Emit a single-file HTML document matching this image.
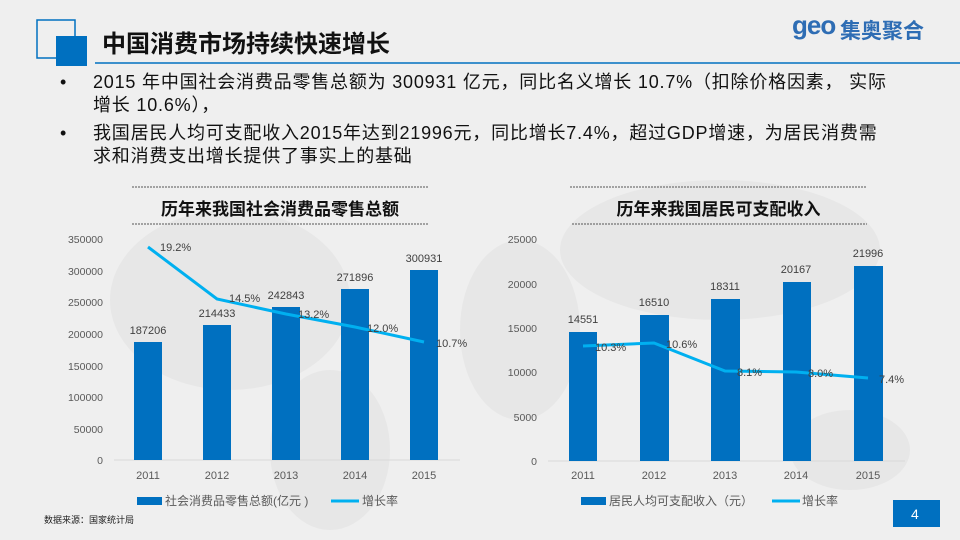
<!DOCTYPE html>
<html><head><meta charset="utf-8"><style>
body{margin:0;width:960px;height:540px;overflow:hidden;background:#efefef;font-family:"Liberation Sans","Noto Sans CJK SC",sans-serif;position:relative}
.a{position:absolute}
</style></head><body>
<svg class="a" style="left:0;top:0" width="960" height="540">
<g fill="#e7e7e7">
<ellipse cx="230" cy="300" rx="120" ry="90"/><ellipse cx="330" cy="450" rx="60" ry="80"/>
<ellipse cx="520" cy="330" rx="60" ry="90"/><ellipse cx="720" cy="250" rx="160" ry="70"/>
<ellipse cx="850" cy="450" rx="60" ry="40"/>
</g>
<rect x="37" y="20" width="38" height="38" fill="none" stroke="#0070c0" stroke-width="1.5"/>
<rect x="56" y="36" width="31" height="30" fill="#0070c0"/>
<line x1="95" y1="63" x2="960" y2="63" stroke="#0070c0" stroke-width="1.5"/>
<g stroke="#555" stroke-width="1" stroke-dasharray="2,1">
<line x1="132" y1="187" x2="428" y2="187"/><line x1="132" y1="224" x2="428" y2="224"/>
<line x1="570" y1="187" x2="866" y2="187"/><line x1="572" y1="224" x2="867" y2="224"/>
</g>
<g font-size="10.5" fill="#595959" text-anchor="end">
<text x="103" y="243">350000</text><text x="103" y="275">300000</text><text x="103" y="306">250000</text><text x="103" y="338">200000</text><text x="103" y="370">150000</text><text x="103" y="401">100000</text><text x="103" y="433">50000</text><text x="103" y="464">0</text>
<text x="537" y="243">25000</text><text x="537" y="288">20000</text><text x="537" y="332">15000</text><text x="537" y="376">10000</text><text x="537" y="421">5000</text><text x="537" y="465">0</text>
</g>
<line x1="114" y1="460" x2="460" y2="460" stroke="#d9d9d9"/>
<line x1="548" y1="461" x2="905" y2="461" stroke="#d9d9d9"/>
<g fill="#0070c0">
<rect x="134" y="342" width="28" height="118"/><rect x="203" y="325" width="28" height="135"/><rect x="272" y="307" width="28" height="153"/><rect x="341" y="289" width="28" height="171"/><rect x="410" y="270" width="28" height="190"/>
<rect x="569" y="332" width="28" height="129"/><rect x="640" y="315" width="29" height="146"/><rect x="711" y="299" width="29" height="162"/><rect x="783" y="282" width="28" height="179"/><rect x="854" y="266" width="29" height="195"/>
</g>
<polyline points="148,247 217,299 286,314 355,327 424,342" fill="none" stroke="#00b0f0" stroke-width="3"/>
<polyline points="583,346 654,343 725,371 796,372 868,378" fill="none" stroke="#00b0f0" stroke-width="3"/>
<g font-size="11" fill="#404040" text-anchor="middle">
<text x="148" y="334">187206</text><text x="217" y="317">214433</text><text x="286" y="299">242843</text><text x="355" y="281">271896</text><text x="424" y="262">300931</text>
<text x="583" y="323">14551</text><text x="654" y="306">16510</text><text x="725" y="290">18311</text><text x="796" y="273">20167</text><text x="868" y="257">21996</text>
<g text-anchor="start"><text x="160" y="251">19.2%</text><text x="229" y="302">14.5%</text><text x="298" y="318">13.2%</text><text x="367" y="332">12.0%</text><text x="436" y="347">10.7%</text>
<text x="595" y="351">10.3%</text><text x="666" y="348">10.6%</text><text x="737" y="376">8.1%</text><text x="808" y="377">8.0%</text><text x="879" y="383">7.4%</text></g>
</g>
<g font-size="11" fill="#595959" text-anchor="middle">
<text x="148" y="479">2011</text><text x="217" y="479">2012</text><text x="286" y="479">2013</text><text x="355" y="479">2014</text><text x="424" y="479">2015</text>
<text x="583" y="479">2011</text><text x="654" y="479">2012</text><text x="725" y="479">2013</text><text x="796" y="479">2014</text><text x="868" y="479">2015</text>
</g>
<rect x="137" y="497" width="25" height="8" fill="#0070c0"/>
<line x1="331" y1="501" x2="359" y2="501" stroke="#00b0f0" stroke-width="3"/>
<rect x="581" y="497" width="25" height="8" fill="#0070c0"/>
<line x1="772" y1="501" x2="800" y2="501" stroke="#00b0f0" stroke-width="3"/>
<g font-size="12" fill="#595959">
<text x="165" y="505">社会消费品零售总额(亿元 )</text><text x="362" y="505">增长率</text>
<text x="609" y="505">居民人均可支配收入（元）</text><text x="802" y="505">增长率</text>
</g>
<rect x="893" y="500" width="47" height="27" fill="#0070c0"/>
<text x="911" y="519" font-size="14" fill="#fff">4</text>
</svg>
<div class="a" style="left:102px;top:24px;font-size:24px;font-weight:bold;color:#111">中国消费市场持续快速增长</div>
<div class="a" style="left:792px;top:10px;font-size:26px;font-weight:bold;color:#2e6db4;letter-spacing:-1px">geo</div>
<div class="a" style="left:840px;top:15px;font-size:21px;font-weight:bold;color:#2e6db4">集奥聚合</div>
<div class="a" style="left:60px;top:71px;font-size:18px;letter-spacing:0.8px;line-height:23px;color:#111;white-space:nowrap">
<div style="position:relative;padding-left:33px"><span style="position:absolute;left:0">•</span>2015 年中国社会消费品零售总额为 300931 亿元，同比名义增长 10.7%（扣除价格因素， 实际<br>增长 10.6%），</div>
<div style="position:relative;padding-left:33px;margin-top:5px"><span style="position:absolute;left:0">•</span>我国居民人均可支配收入2015年达到21996元，同比增长7.4%，超过GDP增速，为居民消费需<br>求和消费支出增长提供了事实上的基础</div>
</div>
<div class="a" style="left:132px;top:195px;width:296px;text-align:center;font-size:17px;font-weight:bold;color:#111">历年来我国社会消费品零售总额</div>
<div class="a" style="left:570px;top:195px;width:297px;text-align:center;font-size:17px;font-weight:bold;color:#111">历年来我国居民可支配收入</div>
<div class="a" style="left:44px;top:513px;font-size:9px;color:#222">数据来源：国家统计局</div>
</body></html>
